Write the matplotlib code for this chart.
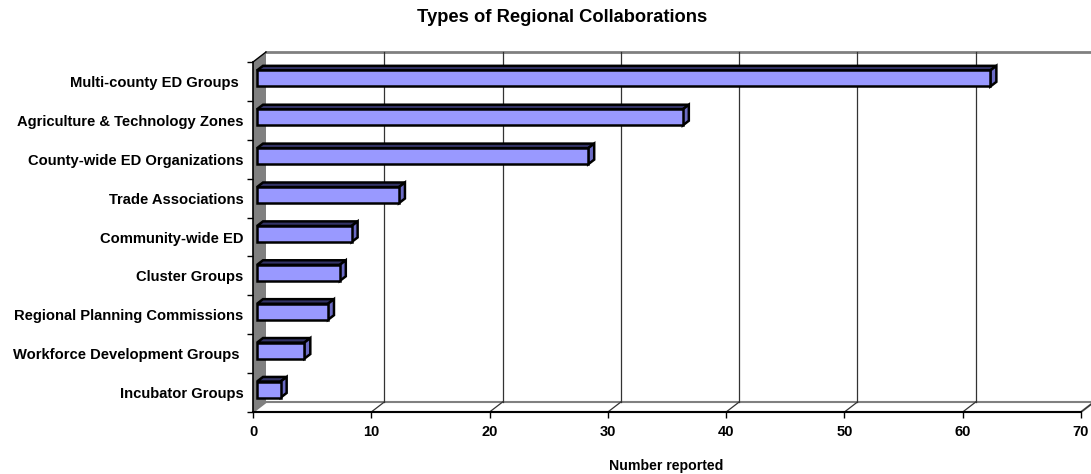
import matplotlib
matplotlib.use('Agg')
import matplotlib.pyplot as plt
from matplotlib.patches import Polygon

plt.rcParams['font.family'] = ['Liberation Sans', 'DejaVu Sans']
plt.rcParams['font.weight'] = 'bold'

# data
categories = ['Multi-county ED Groups ', 'Agriculture & Technology Zones',
              'County-wide ED Organizations', 'Trade Associations',
              'Community-wide ED', 'Cluster Groups',
              'Regional Planning Commissions', 'Workforce Development Groups ',
              'Incubator Groups']
values = [62, 36, 28, 12, 8, 7, 6, 4, 2]
x_ticks = [0, 10, 20, 30, 40, 50, 60, 70]

W, H = 1091, 474
fig = plt.figure(figsize=(W / 100, H / 100), dpi=100)
ax = fig.add_axes([253 / W, 62 / H, 828 / W, 350 / H])
n = len(categories)
xmax = 70
ax.set_xlim(0, xmax)
ax.set_ylim(n - 0.5, -0.5)

# pixel -> data units (for the fake 3d depth)
sx = xmax / 828
sy = n / 350


def off(x, y, dxp, dyp):
    return (x + dxp * sx, y - dyp * sy)


DX, DY = 13, 10      # wall depth
bottom, top = n - 0.5, -0.5

# left wall
ax.add_patch(Polygon([(0, bottom), (0, top), off(0, top, DX, DY), off(0, bottom, DX, DY)],
                     closed=True, facecolor='#808080', edgecolor='none', clip_on=False, zorder=1))
# floor
ax.add_patch(Polygon([(0, bottom), (xmax, bottom), off(xmax, bottom, DX, DY), off(0, bottom, DX, DY)],
                     closed=True, facecolor='white', edgecolor='#808080', lw=1.5, clip_on=False, zorder=1))
# back wall top edge
p0, p1 = off(0, top, DX, DY), off(xmax, top, DX, DY)
ax.plot([p0[0], p1[0] + 1], [p0[1], p1[1]], color='#808080', lw=2, clip_on=False, zorder=2)
# left wall top edge
ax.plot([0, p0[0]], [top, p0[1]], color='black', lw=1, clip_on=False, zorder=2)

# grid lines on back wall and floor
for t in x_ticks[1:]:
    a, b = off(t, bottom, DX, DY), off(t, top, DX, DY)
    if t < xmax:
        ax.plot([a[0], b[0]], [a[1], b[1]], color='#333333', lw=0.9, clip_on=False, zorder=2)
    ax.plot([t, a[0]], [bottom, a[1]], color='#333333', lw=0.9, clip_on=False, zorder=2)

# bars
h = 16 / 38.8
L = 4 * sx
fy = 3 * sy
bdx, bdy = 6, 4.6
ypos = [i - fy for i in range(n)]
ax.barh(ypos, values, height=h, left=L, color='#9999FF', edgecolor='black', lw=1.8, zorder=4)
for y, v in zip(ypos, values):
    yt, yb = y - h / 2, y + h / 2
    xr = L + v
    ax.add_patch(Polygon([(L, yt), (xr, yt), off(xr, yt, bdx, bdy), off(L, yt, bdx, bdy)],
                         closed=True, facecolor='#333366', edgecolor='black', lw=1.8, zorder=3))
    ax.add_patch(Polygon([(xr, yt), (xr, yb), off(xr, yb, bdx, bdy), off(xr, yt, bdx, bdy)],
                         closed=True, facecolor='#6B6BC4', edgecolor='black', lw=1.8, zorder=3))

# axes
for s in ['top', 'right']:
    ax.spines[s].set_visible(False)
ax.spines['left'].set_linewidth(1.2)
ax.spines['bottom'].set_linewidth(1.5)
ax.spines['left'].set_zorder(5)
ax.spines['bottom'].set_zorder(5)

ax.set_yticks(range(n))
ax.set_yticklabels(categories, fontsize=10.6, fontweight='bold')
ax.set_yticks([i - 0.5 for i in range(n + 1)], minor=True)
ax.tick_params(axis='y', which='major', length=0, pad=7)
ax.tick_params(axis='y', which='minor', length=4.5, width=1, direction='out')

ax.set_xticks(x_ticks)
ax.set_xticklabels([str(t) for t in x_ticks], fontsize=10.5, fontweight='bold')
ax.tick_params(axis='x', length=4.5, width=1, direction='out', pad=5)

fig.text(562 / W, 1 - 17 / H, 'Types of Regional Collaborations',
         ha='center', va='center', fontsize=13.2, fontweight='bold')
fig.text(666 / W, 1 - 466 / H, 'Number reported',
         ha='center', va='center', fontsize=10.2, fontweight='bold')

fig.savefig('out.png', dpi=100, facecolor='white')
